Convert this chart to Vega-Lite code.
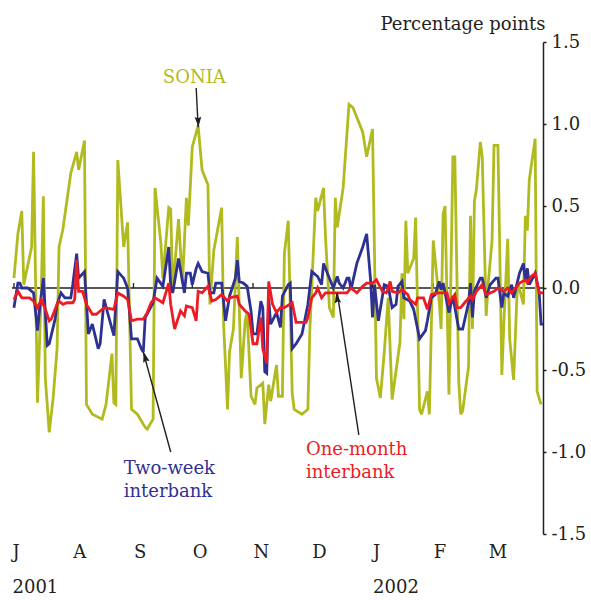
{
  "$schema": "https://vega.github.io/schema/vega-lite/v6.json",
  "width": 531,
  "height": 492,
  "autosize": {"type": "none"},
  "padding": {"left": 12, "top": 42, "right": 48, "bottom": 66},
  "background": "white",
  "config": {"view": {"stroke": null}, "font": "DejaVu Serif"},
  "datasets": {
    "sonia": [
      {"date":"2001-07-02","value":0.06},{"date":"2001-07-04","value":0.33},{"date":"2001-07-06","value":0.47},{"date":"2001-07-07","value":0.02},
      {"date":"2001-07-11","value":0.25},{"date":"2001-07-12","value":0.83},{"date":"2001-07-14","value":-0.70},{"date":"2001-07-16","value":0.0},
      {"date":"2001-07-17","value":0.56},{"date":"2001-07-18","value":-0.55},{"date":"2001-07-20","value":-0.88},{"date":"2001-07-22","value":-0.67},
      {"date":"2001-07-24","value":-0.37},{"date":"2001-07-25","value":0.25},{"date":"2001-07-27","value":0.36},{"date":"2001-07-31","value":0.70},
      {"date":"2001-08-03","value":0.83},{"date":"2001-08-04","value":0.72},{"date":"2001-08-07","value":0.90},{"date":"2001-08-08","value":-0.71},
      {"date":"2001-08-11","value":-0.77},{"date":"2001-08-16","value":-0.80},{"date":"2001-08-18","value":-0.71},{"date":"2001-08-21","value":-0.40},
      {"date":"2001-08-22","value":-0.70},{"date":"2001-08-23","value":-0.71},{"date":"2001-08-24","value":0.78},{"date":"2001-08-27","value":0.25},
      {"date":"2001-08-29","value":0.40},{"date":"2001-08-31","value":-0.74},{"date":"2001-09-03","value":-0.77},{"date":"2001-09-07","value":-0.85},
      {"date":"2001-09-08","value":-0.86},{"date":"2001-09-11","value":-0.80},{"date":"2001-09-12","value":0.61},{"date":"2001-09-15","value":0.27},
      {"date":"2001-09-16","value":0.06},{"date":"2001-09-19","value":0.49},{"date":"2001-09-20","value":0.48},{"date":"2001-09-21","value":-0.02},
      {"date":"2001-09-24","value":0.42},{"date":"2001-09-26","value":0.03},{"date":"2001-09-28","value":0.55},{"date":"2001-09-29","value":0.38},
      {"date":"2001-10-01","value":0.86},{"date":"2001-10-04","value":0.99},{"date":"2001-10-06","value":0.72},{"date":"2001-10-09","value":0.63},
      {"date":"2001-10-10","value":-0.10},{"date":"2001-10-12","value":0.23},{"date":"2001-10-16","value":0.49},{"date":"2001-10-17","value":-0.22},
      {"date":"2001-10-19","value":-0.74},{"date":"2001-10-20","value":-0.39},{"date":"2001-10-22","value":-0.25},{"date":"2001-10-24","value":0.31},
      {"date":"2001-10-26","value":-0.55},{"date":"2001-10-28","value":-0.20},{"date":"2001-10-29","value":-0.15},{"date":"2001-10-31","value":-0.66},
      {"date":"2001-11-02","value":-0.71},{"date":"2001-11-03","value":-0.61},{"date":"2001-11-06","value":-0.58},{"date":"2001-11-07","value":-0.83},
      {"date":"2001-11-09","value":-0.59},{"date":"2001-11-10","value":-0.69},{"date":"2001-11-13","value":-0.47},{"date":"2001-11-14","value":-0.66},
      {"date":"2001-11-16","value":-0.66},{"date":"2001-11-17","value":0.21},{"date":"2001-11-19","value":0.41},{"date":"2001-11-21","value":-0.64},
      {"date":"2001-11-22","value":-0.74},{"date":"2001-11-26","value":-0.77},{"date":"2001-11-29","value":-0.74},{"date":"2001-11-30","value":-0.26},
      {"date":"2001-12-03","value":0.55},{"date":"2001-12-04","value":0.47},{"date":"2001-12-07","value":0.61},{"date":"2001-12-08","value":0.31},
      {"date":"2001-12-10","value":-0.12},{"date":"2001-12-12","value":-0.18},{"date":"2001-12-13","value":0.55},{"date":"2001-12-14","value":0.37},
      {"date":"2001-12-17","value":0.61},{"date":"2001-12-20","value":1.12},{"date":"2001-12-22","value":1.10},{"date":"2001-12-27","value":0.95},
      {"date":"2001-12-29","value":0.80},{"date":"2002-01-01","value":0.97},{"date":"2002-01-03","value":-0.55},{"date":"2002-01-05","value":-0.67},
      {"date":"2002-01-07","value":-0.39},{"date":"2002-01-09","value":-0.06},{"date":"2002-01-11","value":-0.68},{"date":"2002-01-15","value":-0.33},
      {"date":"2002-01-16","value":0.09},{"date":"2002-01-17","value":-0.19},{"date":"2002-01-18","value":0.41},{"date":"2002-01-19","value":0.09},
      {"date":"2002-01-22","value":0.18},{"date":"2002-01-23","value":0.43},{"date":"2002-01-24","value":-0.14},{"date":"2002-01-25","value":-0.74},
      {"date":"2002-01-26","value":-0.77},{"date":"2002-01-29","value":-0.63},{"date":"2002-01-30","value":-0.77},{"date":"2002-02-01","value":0.29},
      {"date":"2002-02-04","value":-0.08},{"date":"2002-02-05","value":-0.25},{"date":"2002-02-06","value":0.45},{"date":"2002-02-07","value":0.50},
      {"date":"2002-02-09","value":-0.65},{"date":"2002-02-11","value":0.80},{"date":"2002-02-12","value":0.80},{"date":"2002-02-14","value":-0.57},
      {"date":"2002-02-15","value":-0.77},{"date":"2002-02-16","value":-0.75},{"date":"2002-02-19","value":-0.48},{"date":"2002-02-20","value":0.44},
      {"date":"2002-02-21","value":-0.25},{"date":"2002-02-22","value":0.53},{"date":"2002-02-23","value":0.60},{"date":"2002-02-25","value":0.89},
      {"date":"2002-02-26","value":0.80},{"date":"2002-02-28","value":-0.17},{"date":"2002-03-01","value":0.02},{"date":"2002-03-03","value":0.29},
      {"date":"2002-03-04","value":0.87},{"date":"2002-03-06","value":0.87},{"date":"2002-03-07","value":0.18},{"date":"2002-03-08","value":-0.53},
      {"date":"2002-03-09","value":-0.22},{"date":"2002-03-11","value":0.30},{"date":"2002-03-12","value":-0.31},{"date":"2002-03-14","value":-0.56},
      {"date":"2002-03-16","value":0.04},{"date":"2002-03-19","value":-0.10},{"date":"2002-03-20","value":0.44},{"date":"2002-03-21","value":0.35},
      {"date":"2002-03-22","value":0.66},{"date":"2002-03-25","value":0.91},{"date":"2002-03-26","value":-0.63},{"date":"2002-03-28","value":-0.71}
    ],
    "twoweek": [
      {"date":"2001-07-02","value":-0.12},{"date":"2001-07-04","value":0.03},{"date":"2001-07-05","value":0.03},{"date":"2001-07-06","value":0.0},
      {"date":"2001-07-09","value":0.0},{"date":"2001-07-12","value":-0.03},{"date":"2001-07-14","value":-0.26},{"date":"2001-07-15","value":-0.14},
      {"date":"2001-07-17","value":0.06},{"date":"2001-07-19","value":-0.35},{"date":"2001-07-20","value":-0.34},{"date":"2001-07-23","value":-0.19},
      {"date":"2001-07-24","value":-0.10},{"date":"2001-07-26","value":-0.03},{"date":"2001-07-28","value":-0.06},{"date":"2001-07-31","value":-0.06},
      {"date":"2001-08-01","value":0.02},{"date":"2001-08-03","value":0.21},{"date":"2001-08-04","value":0.06},{"date":"2001-08-07","value":0.10},
      {"date":"2001-08-09","value":-0.28},{"date":"2001-08-11","value":-0.22},{"date":"2001-08-14","value":-0.37},{"date":"2001-08-15","value":-0.34},
      {"date":"2001-08-17","value":-0.07},{"date":"2001-08-19","value":-0.16},{"date":"2001-08-22","value":-0.29},{"date":"2001-08-24","value":0.10},
      {"date":"2001-08-27","value":0.06},{"date":"2001-08-29","value":0.0},{"date":"2001-08-31","value":-0.31},{"date":"2001-09-03","value":-0.31},
      {"date":"2001-09-05","value":-0.37},{"date":"2001-09-06","value":-0.39},{"date":"2001-09-07","value":-0.18},{"date":"2001-09-11","value":-0.09},
      {"date":"2001-09-13","value":0.06},{"date":"2001-09-16","value":0.01},{"date":"2001-09-19","value":0.25},{"date":"2001-09-20","value":0.01},
      {"date":"2001-09-21","value":-0.03},{"date":"2001-09-24","value":0.18},{"date":"2001-09-27","value":-0.03},{"date":"2001-09-28","value":0.09},
      {"date":"2001-09-30","value":0.09},{"date":"2001-10-01","value":0.02},{"date":"2001-10-03","value":0.12},{"date":"2001-10-04","value":0.15},
      {"date":"2001-10-06","value":0.10},{"date":"2001-10-09","value":0.09},{"date":"2001-10-10","value":-0.03},{"date":"2001-10-12","value":-0.03},
      {"date":"2001-10-13","value":0.03},{"date":"2001-10-16","value":0.03},{"date":"2001-10-18","value":-0.20},{"date":"2001-10-20","value":-0.05},
      {"date":"2001-10-23","value":0.06},{"date":"2001-10-24","value":0.17},{"date":"2001-10-25","value":0.04},{"date":"2001-10-27","value":0.03},
      {"date":"2001-10-29","value":0.01},{"date":"2001-10-31","value":-0.14},{"date":"2001-11-01","value":-0.28},{"date":"2001-11-03","value":-0.28},
      {"date":"2001-11-05","value":-0.08},{"date":"2001-11-06","value":-0.12},{"date":"2001-11-07","value":-0.51},{"date":"2001-11-08","value":-0.52},
      {"date":"2001-11-09","value":-0.06},{"date":"2001-11-10","value":-0.22},{"date":"2001-11-13","value":-0.15},{"date":"2001-11-15","value":-0.24},
      {"date":"2001-11-16","value":-0.05},{"date":"2001-11-19","value":0.02},{"date":"2001-11-20","value":0.03},{"date":"2001-11-21","value":-0.37},
      {"date":"2001-11-23","value":-0.34},{"date":"2001-11-26","value":-0.28},{"date":"2001-11-29","value":-0.10},{"date":"2001-12-01","value":0.10},
      {"date":"2001-12-04","value":0.07},{"date":"2001-12-06","value":0.02},{"date":"2001-12-07","value":0.15},{"date":"2001-12-10","value":0.06},
      {"date":"2001-12-12","value":0.0},{"date":"2001-12-14","value":0.07},{"date":"2001-12-15","value":0.03},{"date":"2001-12-17","value":0.0},
      {"date":"2001-12-19","value":0.06},{"date":"2001-12-20","value":0.06},{"date":"2001-12-21","value":-0.01},{"date":"2001-12-24","value":0.15},
      {"date":"2001-12-27","value":0.25},{"date":"2001-12-29","value":0.33},{"date":"2001-12-31","value":0.05},{"date":"2002-01-01","value":-0.18},
      {"date":"2002-01-02","value":0.02},{"date":"2002-01-04","value":-0.20},{"date":"2002-01-07","value":0.02},{"date":"2002-01-09","value":0.01},
      {"date":"2002-01-11","value":-0.12},{"date":"2002-01-13","value":-0.10},{"date":"2002-01-14","value":0.01},{"date":"2002-01-16","value":0.04},
      {"date":"2002-01-17","value":-0.06},{"date":"2002-01-20","value":-0.08},{"date":"2002-01-22","value":-0.13},{"date":"2002-01-25","value":-0.31},
      {"date":"2002-01-28","value":-0.26},{"date":"2002-01-29","value":-0.20},{"date":"2002-01-31","value":-0.06},{"date":"2002-02-02","value":-0.04},
      {"date":"2002-02-04","value":0.04},{"date":"2002-02-05","value":-0.01},{"date":"2002-02-06","value":0.03},{"date":"2002-02-09","value":-0.15},
      {"date":"2002-02-11","value":-0.05},{"date":"2002-02-14","value":-0.25},{"date":"2002-02-16","value":-0.25},{"date":"2002-02-19","value":-0.09},
      {"date":"2002-02-20","value":0.03},{"date":"2002-02-21","value":-0.18},{"date":"2002-02-22","value":-0.02},{"date":"2002-02-25","value":0.06},
      {"date":"2002-02-26","value":0.06},{"date":"2002-02-28","value":-0.06},{"date":"2002-03-02","value":0.02},{"date":"2002-03-05","value":0.06},
      {"date":"2002-03-06","value":0.06},{"date":"2002-03-08","value":-0.12},{"date":"2002-03-09","value":-0.03},{"date":"2002-03-11","value":-0.05},
      {"date":"2002-03-13","value":0.02},{"date":"2002-03-14","value":-0.06},{"date":"2002-03-17","value":0.09},{"date":"2002-03-19","value":0.15},
      {"date":"2002-03-20","value":0.04},{"date":"2002-03-21","value":0.12},{"date":"2002-03-22","value":0.02},{"date":"2002-03-25","value":0.09},
      {"date":"2002-03-27","value":-0.02},{"date":"2002-03-28","value":-0.22},{"date":"2002-03-29","value":-0.22}
    ],
    "onemonth": [
      {"date":"2001-07-02","value":-0.07},{"date":"2001-07-04","value":-0.02},{"date":"2001-07-06","value":-0.06},{"date":"2001-07-10","value":-0.06},
      {"date":"2001-07-12","value":-0.08},{"date":"2001-07-14","value":-0.12},{"date":"2001-07-16","value":-0.07},{"date":"2001-07-18","value":-0.13},
      {"date":"2001-07-20","value":-0.20},{"date":"2001-07-21","value":-0.19},{"date":"2001-07-24","value":-0.10},{"date":"2001-07-25","value":-0.08},
      {"date":"2001-07-27","value":-0.10},{"date":"2001-07-29","value":-0.09},{"date":"2001-08-01","value":-0.09},{"date":"2001-08-02","value":-0.07},
      {"date":"2001-08-03","value":0.17},{"date":"2001-08-04","value":-0.02},{"date":"2001-08-06","value":-0.02},{"date":"2001-08-08","value":-0.10},
      {"date":"2001-08-11","value":-0.16},{"date":"2001-08-13","value":-0.16},{"date":"2001-08-15","value":-0.14},{"date":"2001-08-17","value":-0.12},
      {"date":"2001-08-22","value":-0.13},{"date":"2001-08-24","value":-0.03},{"date":"2001-08-27","value":-0.05},{"date":"2001-08-29","value":-0.07},
      {"date":"2001-08-31","value":-0.20},{"date":"2001-09-03","value":-0.19},{"date":"2001-09-06","value":-0.19},{"date":"2001-09-08","value":-0.15},
      {"date":"2001-09-10","value":-0.09},{"date":"2001-09-12","value":-0.06},{"date":"2001-09-16","value":-0.09},{"date":"2001-09-19","value":0.03},
      {"date":"2001-09-20","value":-0.10},{"date":"2001-09-22","value":-0.25},{"date":"2001-09-25","value":-0.14},{"date":"2001-09-27","value":-0.17},
      {"date":"2001-09-28","value":-0.11},{"date":"2001-10-01","value":-0.12},{"date":"2001-10-03","value":-0.20},{"date":"2001-10-04","value":-0.02},
      {"date":"2001-10-06","value":-0.03},{"date":"2001-10-09","value":0.01},{"date":"2001-10-11","value":-0.08},{"date":"2001-10-13","value":-0.07},
      {"date":"2001-10-16","value":-0.04},{"date":"2001-10-19","value":-0.08},{"date":"2001-10-20","value":-0.06},{"date":"2001-10-24","value":-0.05},
      {"date":"2001-10-25","value":-0.10},{"date":"2001-10-28","value":-0.14},{"date":"2001-10-30","value":-0.16},{"date":"2001-11-01","value":-0.34},
      {"date":"2001-11-03","value":-0.34},{"date":"2001-11-05","value":-0.18},{"date":"2001-11-06","value":-0.37},{"date":"2001-11-08","value":-0.46},
      {"date":"2001-11-09","value":0.04},{"date":"2001-11-11","value":-0.10},{"date":"2001-11-13","value":-0.15},{"date":"2001-11-15","value":-0.12},
      {"date":"2001-11-17","value":-0.12},{"date":"2001-11-21","value":-0.09},{"date":"2001-11-23","value":-0.21},{"date":"2001-11-28","value":-0.21},
      {"date":"2001-11-29","value":-0.18},{"date":"2001-12-01","value":-0.06},{"date":"2001-12-03","value":-0.03},{"date":"2001-12-04","value":0.0},
      {"date":"2001-12-06","value":-0.06},{"date":"2001-12-08","value":-0.03},{"date":"2001-12-19","value":-0.03},{"date":"2001-12-21","value":0.0},
      {"date":"2001-12-24","value":-0.03},{"date":"2001-12-27","value":0.01},{"date":"2001-12-29","value":0.03},{"date":"2002-01-01","value":0.03},
      {"date":"2002-01-03","value":0.05},{"date":"2002-01-06","value":-0.02},{"date":"2002-01-08","value":-0.03},{"date":"2002-01-09","value":0.0},
      {"date":"2002-01-10","value":0.04},{"date":"2002-01-11","value":-0.02},{"date":"2002-01-14","value":-0.03},{"date":"2002-01-16","value":-0.01},
      {"date":"2002-01-19","value":-0.04},{"date":"2002-01-20","value":-0.07},{"date":"2002-01-23","value":-0.10},{"date":"2002-01-24","value":-0.06},
      {"date":"2002-01-27","value":-0.06},{"date":"2002-01-29","value":-0.13},{"date":"2002-01-31","value":-0.04},{"date":"2002-02-03","value":-0.03},
      {"date":"2002-02-08","value":-0.03},{"date":"2002-02-09","value":-0.09},{"date":"2002-02-12","value":-0.04},{"date":"2002-02-13","value":-0.12},
      {"date":"2002-02-15","value":-0.12},{"date":"2002-02-17","value":-0.09},{"date":"2002-02-20","value":-0.05},{"date":"2002-02-21","value":-0.07},
      {"date":"2002-02-23","value":-0.02},{"date":"2002-02-26","value":0.02},{"date":"2002-02-28","value":-0.04},{"date":"2002-03-04","value":-0.02},
      {"date":"2002-03-06","value":0.0},{"date":"2002-03-09","value":-0.02},{"date":"2002-03-11","value":0.0},{"date":"2002-03-13","value":-0.03},
      {"date":"2002-03-15","value":0.0},{"date":"2002-03-17","value":0.03},{"date":"2002-03-20","value":0.05},{"date":"2002-03-21","value":0.03},
      {"date":"2002-03-23","value":0.07},{"date":"2002-03-25","value":0.09},{"date":"2002-03-27","value":-0.03},{"date":"2002-03-29","value":-0.03}
    ],
    "months": [
      {"date":"2001-07-02"},{"date":"2001-08-01"},{"date":"2001-09-01"},{"date":"2001-10-01"},{"date":"2001-11-01"},
      {"date":"2001-12-01"},{"date":"2002-01-01"},{"date":"2002-02-01"},{"date":"2002-03-01"}
    ],
    "labels": [
      {"date":"2001-09-16","value":1.25,"text":"SONIA","color":"#b1bb1f"},
      {"date":"2001-08-27","value":-1.134,"text":"Two-week","color":"#2e3192"},
      {"date":"2001-08-27","value":-1.274,"text":"interbank","color":"#2e3192"},
      {"date":"2001-11-28","value":-1.018,"text":"One-month","color":"#ed1c24"},
      {"date":"2001-11-28","value":-1.159,"text":"interbank","color":"#ed1c24"}
    ],
    "arrows": [
      {"date":"2001-10-03","value":1.22,"date2":"2001-10-04","value2":0.98,"hdate":"2001-10-04","hvalue":1.018,"angle":177},
      {"date":"2001-09-20","value":-1.0,"date2":"2001-09-06","value2":-0.39,"hdate":"2001-09-07","hvalue":-0.426,"angle":345},
      {"date":"2001-12-25","value":-0.896,"date2":"2001-12-14","value2":-0.03,"hdate":"2001-12-14","hvalue":-0.066,"angle":351.4}
    ]
  },
  "layer": [
    {
      "data": {"name": "months"},
      "mark": {"type": "rule", "color": "#231f20", "strokeWidth": 1.3},
      "encoding": {
        "x": {"field": "date", "type": "temporal"},
        "y": {"datum": 0, "type": "quantitative"},
        "y2": {"datum": 0.03}
      }
    },
    {
      "data": {"values": [{"value": 0}]},
      "mark": {"type": "rule", "color": "#231f20", "strokeWidth": 1.3},
      "encoding": {"y": {"field": "value", "type": "quantitative"}}
    },
    {
      "data": {"name": "sonia"},
      "mark": {"type": "line", "color": "#b1bb1f", "strokeWidth": 2.8, "strokeJoin": "miter", "strokeMiterLimit": 3},
      "encoding": {
        "x": {
          "field": "date", "type": "temporal",
          "scale": {"type": "utc", "domain": [{"year": 2001, "month": 7, "date": 1, "utc": true}, {"year": 2002, "month": 3, "date": 29, "utc": true}]},
          "axis": {
            "title": null, "domain": false, "ticks": false, "tickSize": 0, "grid": false,
            "values": [
              {"year": 2001, "month": 7, "date": 1, "utc": true}, {"year": 2001, "month": 8, "date": 1, "utc": true},
              {"year": 2001, "month": 9, "date": 1, "utc": true}, {"year": 2001, "month": 10, "date": 1, "utc": true},
              {"year": 2001, "month": 11, "date": 1, "utc": true}, {"year": 2001, "month": 12, "date": 1, "utc": true},
              {"year": 2002, "month": 1, "date": 1, "utc": true}, {"year": 2002, "month": 2, "date": 1, "utc": true},
              {"year": 2002, "month": 3, "date": 1, "utc": true}
            ],
            "labelExpr": "utcmonth(datum.value) == 6 ? ['J', '2001'] : (utcmonth(datum.value) == 0 ? ['J', '2002'] : slice(utcFormat(datum.value, '%b'), 0, 1))",
            "labelAlign": "left", "labelBaseline": "top", "labelPadding": 9, "labelFontSize": 18,
            "labelFont": "DejaVu Serif", "labelColor": "#231f20", "labelLineHeight": 35,
            "labelOverlap": false, "labelFlush": false, "labelBound": false
          }
        },
        "y": {
          "field": "value", "type": "quantitative",
          "scale": {"domain": [-1.5, 1.5], "nice": false, "zero": false},
          "axis": {
            "orient": "right", "values": [-1.5, -1, -0.5, 0, 0.5, 1, 1.5], "grid": false,
            "labelExpr": "(datum.value < 0 ? '-' : '') + format(abs(datum.value), '.1f')",
            "domainColor": "#231f20", "domainWidth": 1.5, "tickColor": "#231f20", "tickSize": 3, "tickWidth": 1.5,
            "labelPadding": 5, "labelFontSize": 18, "labelFont": "DejaVu Serif", "labelColor": "#231f20", "labelFlush": false,
            "title": "Percentage points", "titleAngle": 0, "titleAlign": "right", "titleBaseline": "alphabetic",
            "titleX": 2, "titleY": -13, "titleFontSize": 18, "titleFontWeight": "normal", "titleFont": "DejaVu Serif", "titleColor": "#231f20"
          }
        }
      }
    },
    {
      "data": {"name": "twoweek"},
      "mark": {"type": "line", "color": "#2e3192", "strokeWidth": 2.8, "strokeJoin": "miter", "strokeMiterLimit": 3},
      "encoding": {
        "x": {"field": "date", "type": "temporal"},
        "y": {"field": "value", "type": "quantitative"}
      }
    },
    {
      "data": {"name": "onemonth"},
      "mark": {"type": "line", "color": "#ed1c24", "strokeWidth": 2.8, "strokeJoin": "miter", "strokeMiterLimit": 3},
      "encoding": {
        "x": {"field": "date", "type": "temporal"},
        "y": {"field": "value", "type": "quantitative"}
      }
    },
    {
      "data": {"name": "arrows"},
      "mark": {"type": "rule", "color": "#231f20", "strokeWidth": 1.4},
      "encoding": {
        "x": {"field": "date", "type": "temporal"},
        "x2": {"field": "date2"},
        "y": {"field": "value", "type": "quantitative"},
        "y2": {"field": "value2"}
      }
    },
    {
      "data": {"name": "arrows"},
      "mark": {"type": "point", "filled": true, "color": "#231f20", "opacity": 1, "size": 144, "shape": "M0,-1L0.55,0.7L0,0.45L-0.55,0.7Z"},
      "encoding": {
        "x": {"field": "hdate", "type": "temporal"},
        "y": {"field": "hvalue", "type": "quantitative"},
        "angle": {"field": "angle", "type": "quantitative", "scale": null}
      }
    },
    {
      "data": {"name": "labels"},
      "mark": {"type": "text", "align": "left", "baseline": "alphabetic", "fontSize": 18, "font": "DejaVu Serif"},
      "encoding": {
        "x": {"field": "date", "type": "temporal"},
        "y": {"field": "value", "type": "quantitative"},
        "text": {"field": "text"},
        "color": {"field": "color", "type": "nominal", "scale": null}
      }
    }
  ]
}
